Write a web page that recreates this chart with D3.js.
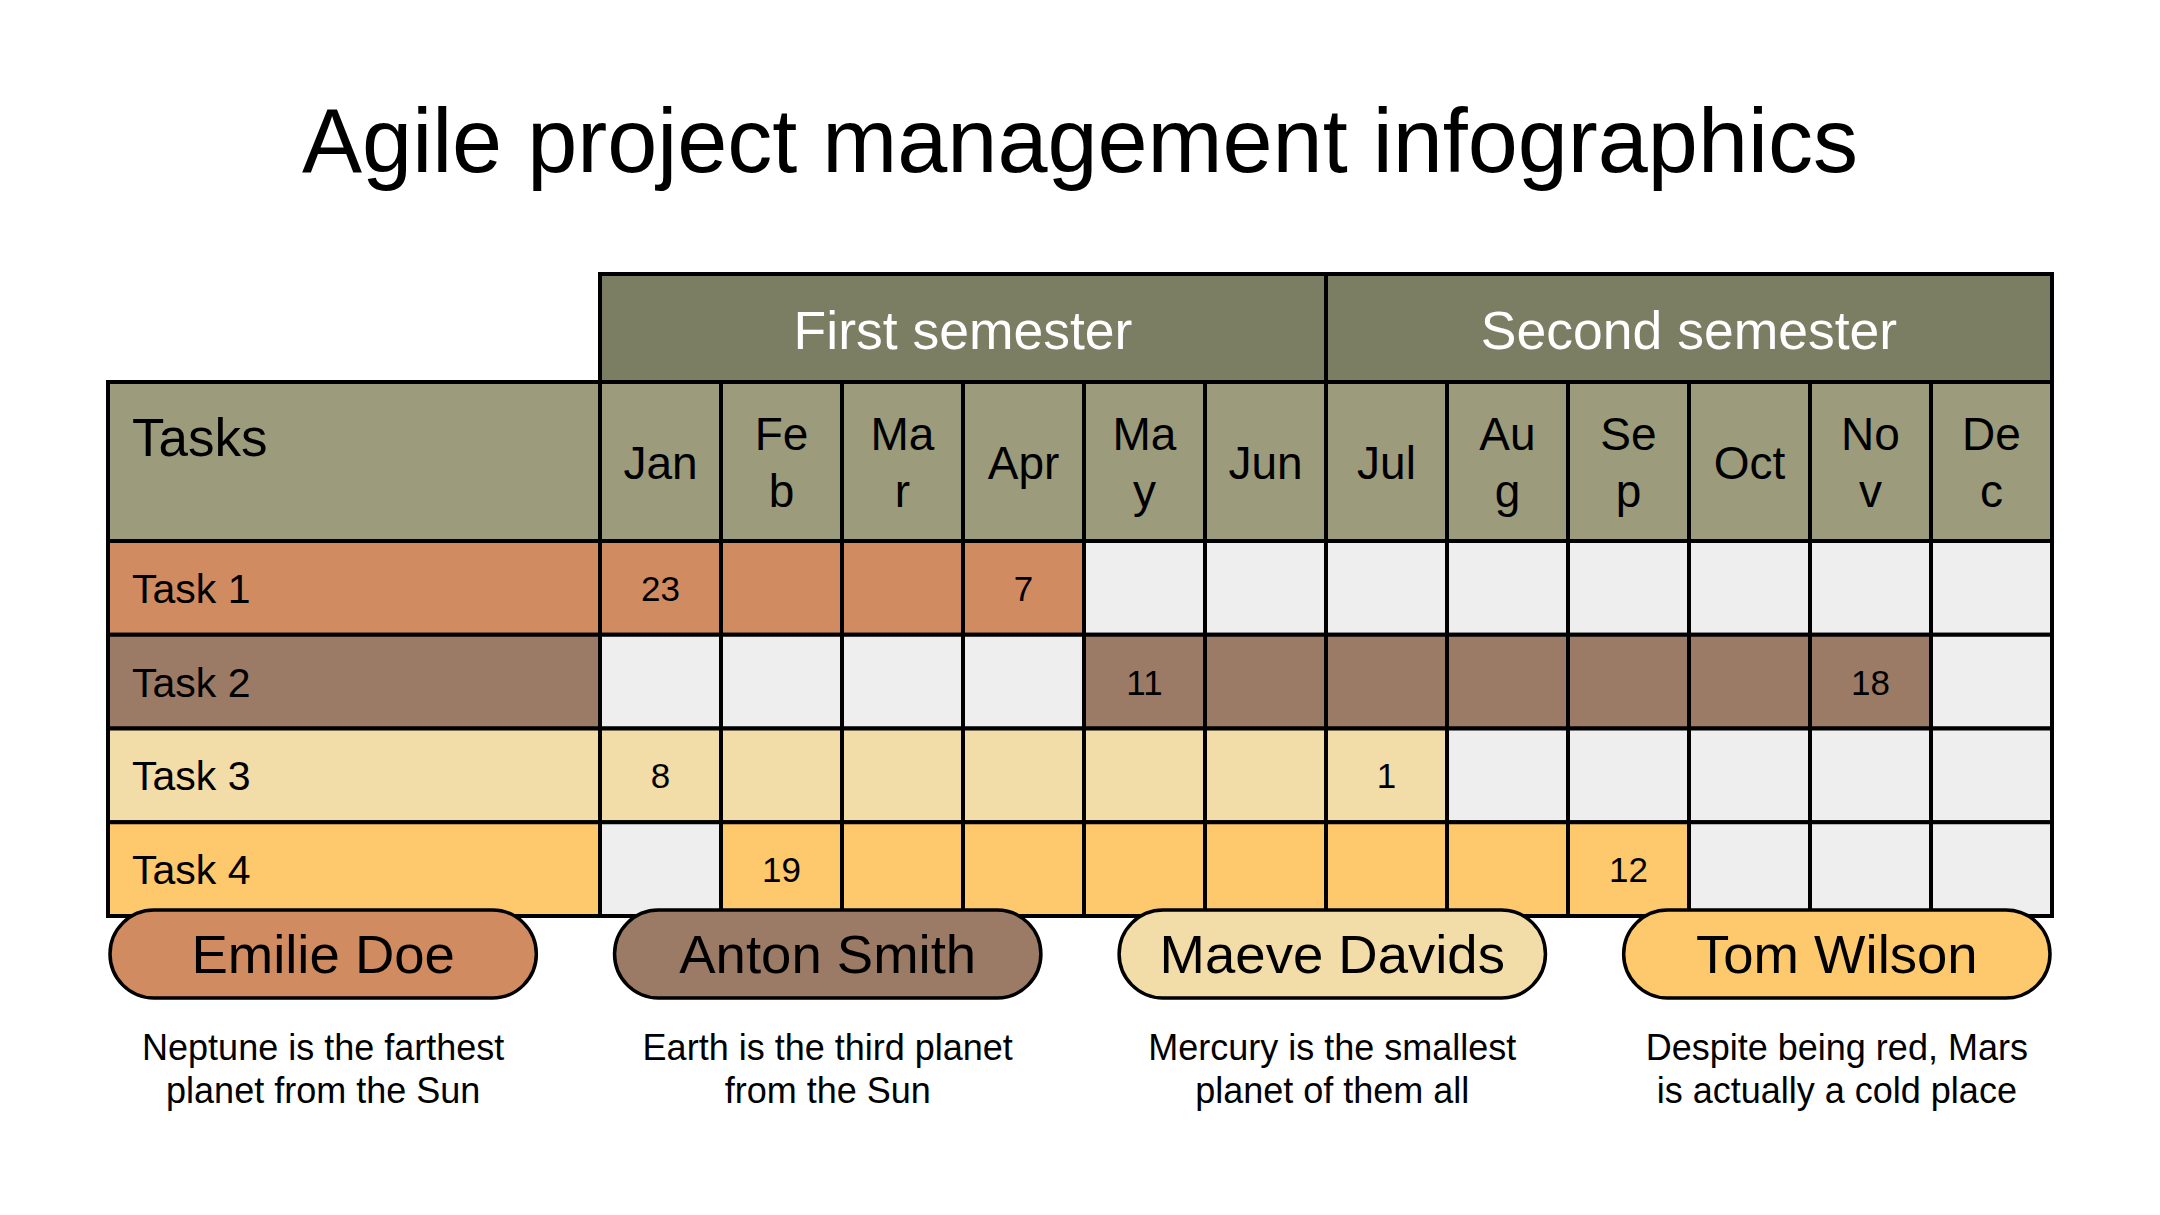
<!DOCTYPE html>
<html>
<head>
<meta charset="utf-8">
<script src="https://cdn.jsdelivr.net/npm/d3@7/dist/d3.min.js"></script>
<style>
  html, body { margin: 0; padding: 0; background: #ffffff; }
  svg { display: block; }
  text { font-family: "Liberation Sans", Arial, Helvetica, sans-serif; }
</style>
</head>
<body>
<svg id="chart" width="2160" height="1215"></svg>
<script>
// ---------- data ----------
const title = "Agile project management infographics";
const semesters = ["First semester", "Second semester"];
const months = ["Jan", "Feb", "Mar", "Apr", "May", "Jun", "Jul", "Aug", "Sep", "Oct", "Nov", "Dec"];
const tasksHeader = "Tasks";
const tasks = ["Task 1", "Task 2", "Task 3", "Task 4"];
const startMonth = ["Jan", "May", "Jan", "Feb"];
const endMonth = ["Apr", "Nov", "Jul", "Sep"];
const startDay = [23, 11, 8, 19];
const endDay = [7, 18, 1, 12];
const taskColors = ["#d08b61", "#9b7b65", "#f2dca8", "#fec96c"];
const owners = ["Emilie Doe", "Anton Smith", "Maeve Davids", "Tom Wilson"];
const descriptions = [
  ["Neptune is the farthest", "planet from the Sun"],
  ["Earth is the third planet", "from the Sun"],
  ["Mercury is the smallest", "planet of them all"],
  ["Despite being red, Mars", "is actually a cold place"]
];

// ---------- layout ----------
const svg = d3.select("#chart");
const semColor = "#7b7e63", monthColor = "#9c9b7b", emptyColor = "#eeeeee";
const tableLeft = 108, taskColRight = 600, tableRight = 2052;
const semTop = 274, monthTop = 382, rowsTop = 541, rowsBottom = 916;
const LW = 4;

const x = d3.scaleBand().domain(months).range([taskColRight, tableRight]);
const semX = d3.scaleBand().domain(semesters).range([taskColRight, tableRight]);
const y = d3.scaleBand().domain(tasks).range([rowsTop, rowsBottom]);
const pillX = d3.scaleBand().domain(owners).range([110, 2050]).paddingInner(0.155);

// title
svg.append("text")
  .attr("x", 1080).attr("y", 172)
  .attr("text-anchor", "middle")
  .attr("font-size", 90)
  .attr("fill", "#000")
  .text(title);

const grid = svg.append("g");

// semester header
const sem = grid.selectAll("g.sem").data(semesters).enter().append("g");
sem.append("rect")
  .attr("x", d => semX(d)).attr("y", semTop)
  .attr("width", semX.bandwidth()).attr("height", monthTop - semTop)
  .attr("fill", semColor).attr("stroke", "#000").attr("stroke-width", LW);
sem.append("text")
  .attr("x", d => semX(d) + semX.bandwidth() / 2)
  .attr("y", 349)
  .attr("text-anchor", "middle")
  .attr("font-size", 53.5)
  .attr("fill", "#fff")
  .text(d => d);

// tasks header
grid.append("rect")
  .attr("x", tableLeft).attr("y", monthTop)
  .attr("width", taskColRight - tableLeft).attr("height", rowsTop - monthTop)
  .attr("fill", monthColor).attr("stroke", "#000").attr("stroke-width", LW);
grid.append("text")
  .attr("x", 132).attr("y", 456)
  .attr("font-size", 53)
  .attr("fill", "#000")
  .text(tasksHeader);

// month header cells
const mh = grid.selectAll("g.month").data(months).enter().append("g");
mh.append("rect")
  .attr("x", d => x(d)).attr("y", monthTop)
  .attr("width", x.bandwidth()).attr("height", rowsTop - monthTop)
  .attr("fill", monthColor).attr("stroke", "#000").attr("stroke-width", LW);

const monthFont = 46, monthLine = 57, maxW = 77;
mh.each(function(d) {
  const g = d3.select(this);
  const t = g.append("text")
    .attr("text-anchor", "middle")
    .attr("font-size", monthFont)
    .attr("fill", "#000");
  const probe = t.append("tspan").text(d);
  let lines = [];
  if (probe.node().getComputedTextLength() <= maxW) {
    lines = [d];
  } else {
    let cur = "";
    for (const ch of d) {
      probe.text(cur + ch);
      if (probe.node().getComputedTextLength() > maxW && cur.length) {
        lines.push(cur); cur = ch;
      } else cur += ch;
    }
    if (cur) lines.push(cur);
  }
  probe.remove();
  const cx = x(d) + x.bandwidth() / 2;
  const cy = (monthTop + rowsTop) / 2;
  const first = cy + 0.358 * monthFont - (lines.length - 1) * monthLine / 2 + 1;
  lines.forEach((ln, i) => {
    t.append("tspan").attr("x", cx).attr("y", first + i * monthLine).text(ln);
  });
});

// task rows
tasks.forEach((task, i) => {
  const s = months.indexOf(startMonth[i]);
  const e = months.indexOf(endMonth[i]);
  const row = grid.append("g");
  row.append("rect")
    .attr("x", tableLeft).attr("y", y(task))
    .attr("width", taskColRight - tableLeft).attr("height", y.bandwidth())
    .attr("fill", taskColors[i]).attr("stroke", "#000").attr("stroke-width", LW);
  row.append("text")
    .attr("x", 132).attr("y", y(task) + y.bandwidth() / 2 + 15)
    .attr("font-size", 41).attr("fill", "#000")
    .text(task);
  row.selectAll("rect.cell").data(months).enter().append("rect")
    .attr("x", m => x(m)).attr("y", y(task))
    .attr("width", x.bandwidth()).attr("height", y.bandwidth())
    .attr("fill", (m, j) => (j >= s && j <= e) ? taskColors[i] : emptyColor)
    .attr("stroke", "#000").attr("stroke-width", LW);
  const labels = [{m: startMonth[i], v: startDay[i]}, {m: endMonth[i], v: endDay[i]}];
  row.selectAll("text.num").data(labels).enter().append("text")
    .attr("x", d => x(d.m) + x.bandwidth() / 2)
    .attr("y", y(task) + y.bandwidth() / 2 + 13)
    .attr("text-anchor", "middle")
    .attr("font-size", 35).attr("fill", "#000")
    .text(d => d.v);
});

// owner pills
const pillTop = 910, pillH = 88;
const pill = svg.selectAll("g.pill").data(owners).enter().append("g");
pill.append("rect")
  .attr("x", d => pillX(d)).attr("y", pillTop)
  .attr("width", pillX.bandwidth()).attr("height", pillH)
  .attr("rx", pillH / 2).attr("ry", pillH / 2)
  .attr("fill", (d, i) => taskColors[i])
  .attr("stroke", "#000").attr("stroke-width", 3.5);
pill.append("text")
  .attr("x", d => pillX(d) + pillX.bandwidth() / 2)
  .attr("y", pillTop + pillH / 2 + 19)
  .attr("text-anchor", "middle")
  .attr("font-size", 54.5).attr("fill", "#000")
  .text(d => d);

// descriptions
pill.each(function(d, i) {
  const t = d3.select(this).append("text")
    .attr("text-anchor", "middle")
    .attr("font-size", 36).attr("fill", "#000");
  descriptions[i].forEach((ln, k) => {
    t.append("tspan")
      .attr("x", pillX(d) + pillX.bandwidth() / 2)
      .attr("y", 1060 + k * 43)
      .text(ln);
  });
});
</script>
</body>
</html>
